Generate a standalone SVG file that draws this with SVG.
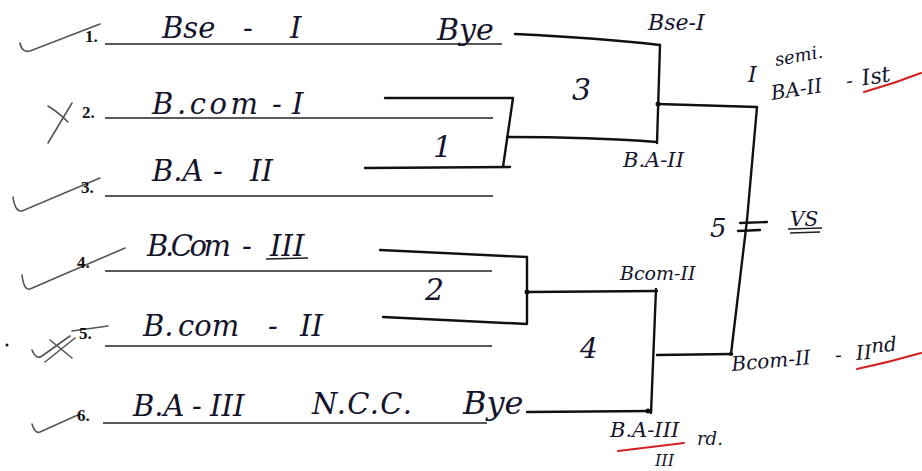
<svg xmlns="http://www.w3.org/2000/svg" width="922" height="471" viewBox="0 0 922 471">
<style>
.hw{font-family:"DejaVu Serif","Liberation Serif",serif;font-style:italic;fill:#14142a}
.nm{font-size:29px}
.lb{font-size:20px}
.num{font-family:"Liberation Serif",serif;font-weight:bold;font-size:17px;fill:#111}
.ul{stroke:#222;stroke-width:1.6;fill:none}
.ck{stroke:#555;stroke-width:1.6;fill:none;stroke-linecap:round}
.cn{stroke:#111;stroke-width:2.4;fill:none;stroke-linecap:round;stroke-linejoin:round}
.red{stroke:#d42020;stroke-width:2;fill:none;stroke-linecap:round}
.dot{fill:#111}
</style>
<rect width="922" height="471" fill="#fff"/>

<g id="entry-1">
  <path class="ck" d="M20,43 Q22,53 30,51 L100,24"/>
  <text class="num" x="85" y="42">1.</text>
  <line class="ul" x1="105" y1="44" x2="502" y2="44"/>
  <text class="hw nm" x="162" y="38">Bse<tspan x="243">-</tspan><tspan x="290">I</tspan></text>
  <text class="hw" x="437" y="40" font-size="30">Bye</text>
</g>
<g id="entry-2">
  <path class="ck" d="M48,106 Q58,112 68,122 M48,143 L72,103"/>
  <text class="num" x="82" y="118">2.</text>
  <line class="ul" x1="105" y1="118" x2="493" y2="118"/>
  <text class="hw nm" x="152" y="114" textLength="106" lengthAdjust="spacing">B.com</text>
  <text class="hw nm" x="272" y="114">-<tspan x="292">I</tspan></text>
</g>
<g id="entry-3">
  <path class="ck" d="M13,197 Q15,212 22,211 L100,178"/>
  <text class="num" x="81" y="193">3.</text>
  <line class="ul" x1="105" y1="196" x2="493" y2="196"/>
  <text class="hw nm" x="152" y="181">B.A<tspan x="213">-</tspan><tspan x="250">II</tspan></text>
</g>
<g id="entry-4">
  <path class="ck" d="M22,275 Q24,291 30,289 L125,248"/>
  <text class="num" x="77" y="268">4.</text>
  <line class="ul" x1="105" y1="271" x2="492" y2="271"/>
  <text class="hw nm" x="147" y="256" textLength="84" lengthAdjust="spacing">B.Com</text>
  <text class="hw nm" x="242" y="256">-<tspan x="270">III</tspan></text>
  <line class="ul" x1="266" y1="259" x2="308" y2="258" stroke-width="2.2"/>
</g>
<g id="entry-5">
  <circle class="dot" cx="7" cy="345" r="1.5"/>
  <path class="ck" d="M32,350 Q36,360 42,356 L70,336 M45,362 L75,338 M50,340 L72,358 M72,331 L108,326"/>
  <text class="num" x="79" y="339">5.</text>
  <line class="ul" x1="105" y1="346" x2="492" y2="346"/>
  <text class="hw nm" x="143" y="336">B.<tspan x="178">com</tspan><tspan x="268">-</tspan><tspan x="300">II</tspan></text>
</g>
<g id="entry-6">
  <path class="ck" d="M32,424 Q35,434 40,432 L80,414"/>
  <text class="num" x="77" y="421">6.</text>
  <line class="ul" x1="103" y1="423" x2="487" y2="423"/>
  <text class="hw nm" x="133" y="416">B.A<tspan x="192">-</tspan><tspan x="210">III</tspan></text>
  <text class="hw nm" x="312" y="414" textLength="100" lengthAdjust="spacing">N.C.C.</text>
  <text class="hw" x="463" y="414" font-size="32">Bye</text>
</g>

<g id="connectors">
  <path class="cn" d="M515,34 Q600,38 660,45"/>
  <path class="cn" d="M660,45 L657,143"/>
  <path class="cn" d="M385,98 L513,98 L503,167 M365,168 L510,167"/>
  <path class="cn" d="M507,137 Q590,137 657,142"/>
  <path class="cn" d="M658,104 L757,107 L747,220 L731,354"/>
  <path class="cn" d="M657,355 L732,354"/>
  <path class="cn" d="M380,250 L527,257 L527,323 M383,317 L527,324"/>
  <path class="cn" d="M527,292 L657,291"/>
  <path class="cn" d="M656,289 L651,413"/>
  <path class="cn" d="M527,412 L651,411"/>
  <path class="cn" d="M740,223 L767,222 M738,231 L760,230" stroke-width="2"/>
  <circle class="dot" cx="658" cy="104" r="2.5"/>
  <circle class="dot" cx="527" cy="292" r="2.5"/>
  <circle class="dot" cx="648" cy="411" r="2.5"/>
  <circle class="dot" cx="731" cy="354" r="2"/>
</g>

<g id="match-1"><text class="hw" x="433" y="157" font-size="30">1</text></g>
<g id="match-2"><text class="hw" x="425" y="300" font-size="30">2</text></g>
<g id="match-3"><text class="hw" x="572" y="100" font-size="30">3</text></g>
<g id="match-4"><text class="hw" x="580" y="358" font-size="28">4</text></g>
<g id="match-5">
  <text class="hw" x="710" y="237" font-size="26">5</text>
  <text class="hw" x="790" y="226" font-size="20">VS</text>
  <path class="ul" d="M788,229 L822,228 M790,233 L820,232"/>
</g>

<g id="label-bse">
  <text class="hw" x="648" y="30" font-size="22">Bse-I</text>
</g>
<g id="label-ba2">
  <text class="hw" x="623" y="167" font-size="21">B.A-II</text>
</g>
<g id="label-bcom2">
  <text class="hw" x="620" y="280" font-size="19">Bcom-II</text>
</g>
<g id="label-ba3">
  <text class="hw" x="610" y="437" font-size="21">B.A-III</text>
  <path class="red" d="M618,451 L684,443"/>
  <text class="hw" x="655" y="466" font-size="16">III</text>
  <text class="hw" x="697" y="445" font-size="18">rd.</text>
</g>
<g id="label-first">
  <text class="hw" x="748" y="82" font-size="22">I</text>
  <text class="hw" x="776" y="66" font-size="18" transform="rotate(-10 776 66)">semi.</text>
  <g transform="rotate(-9 772 100)">
    <text class="hw lb" x="772" y="100">BA-II<tspan x="848">-</tspan><tspan x="864" font-size="22">Ist</tspan></text>
  </g>
  <path class="red" d="M864,92 Q893,84 921,73"/>
</g>
<g id="label-second">
  <g transform="rotate(-5 732 371)">
    <text class="hw lb" x="732" y="371">Bcom-II<tspan x="836">-</tspan><tspan x="857">II</tspan><tspan dy="-6">nd</tspan></text>
  </g>
  <path class="red" d="M857,369 Q890,362 921,353"/>
</g>
</svg>
